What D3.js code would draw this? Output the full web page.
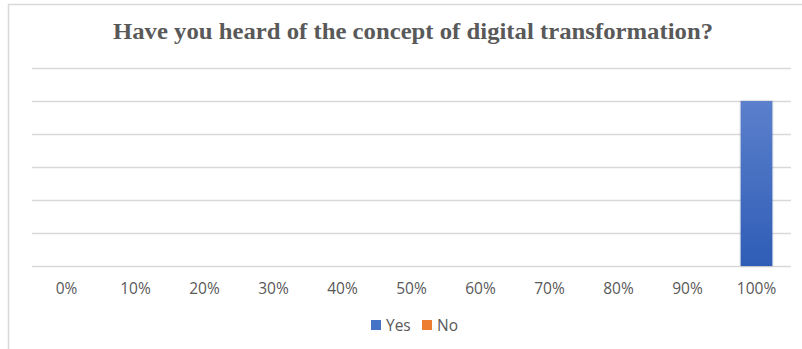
<!DOCTYPE html>
<html>
<head>
<meta charset="utf-8">
<script src="https://cdn.jsdelivr.net/npm/d3@7"></script>
<style>
  html, body { margin: 0; padding: 0; background: #fff; }
  svg { display: block; }
</style>
</head>
<body>
<svg id="chart" width="802" height="349"></svg>
<script>
// Survey answers by response share
const categories = ["0%", "10%", "20%", "30%", "40%", "50%", "60%", "70%", "80%", "90%", "100%"];
const yesValues = [0, 0, 0, 0, 0, 0, 0, 0, 0, 0, 100];
const noValues  = [0, 0, 0, 0, 0, 0, 0, 0, 0, 0, 0];
const seriesNames = ["Yes", "No"];
const yTicks = [0, 20, 40, 60, 80, 100, 120];

const svg = d3.select("#chart");
const W = 802, H = 349;
const margin = { left: 32, right: 11, top: 68, bottom: 83 };
const plotW = W - margin.left - margin.right;
const plotH = H - margin.top - margin.bottom;

// Chart frame
svg.append("rect")
  .attr("x", 8.5).attr("y", 4.5)
  .attr("width", W + 10).attr("height", H + 10)
  .attr("fill", "#fff").attr("stroke", "#d9d9d9").attr("stroke-width", 1.5);

// Title
svg.append("text")
  .attr("x", 113).attr("y", 39)
  .attr("font-family", "'Liberation Serif', 'Times New Roman', serif")
  .attr("font-weight", "bold")
  .attr("font-size", 23)
  .attr("textLength", 600)
  .attr("lengthAdjust", "spacingAndGlyphs")
  .attr("fill", "#595959")
  .text("Have you heard of the concept of digital transformation?");

const g = svg.append("g").attr("transform", `translate(${margin.left},${margin.top})`);

const x = d3.scaleBand().domain(categories).range([0, plotW]).paddingInner(0.54).paddingOuter(0.27);
const y = d3.scaleLinear().domain([0, 120]).range([plotH, 0]);

// Horizontal gridlines
g.append("g")
  .call(d3.axisLeft(y).tickValues(yTicks).tickSize(-plotW).tickFormat(""))
  .call(s => s.select(".domain").remove())
  .call(s => s.selectAll(".tick line").attr("stroke", "#d9d9d9").attr("stroke-width", 1.3));

// Category labels
g.append("g")
  .attr("transform", `translate(0,${plotH})`)
  .call(d3.axisBottom(x).tickSize(0).tickPadding(17))
  .call(s => s.select(".domain").remove())
  .call(s => s.selectAll("text")
    .attr("font-family", "'Open Sans', 'Liberation Sans', sans-serif")
    .attr("font-size", 15.5)
    .attr("fill", "#595959"));

// Bar fill gradient
const defs = svg.append("defs");
const grad = defs.append("linearGradient").attr("id", "yesGrad")
  .attr("x1", 0).attr("y1", 0).attr("x2", 0).attr("y2", 1);
grad.append("stop").attr("offset", "0%").attr("stop-color", "#5b80cc");
grad.append("stop").attr("offset", "100%").attr("stop-color", "#2f5db6");
const shadow = defs.append("filter").attr("id", "barShadow")
  .attr("x", "-30%").attr("y", "-10%").attr("width", "160%").attr("height", "120%");
shadow.append("feDropShadow").attr("dx", 0).attr("dy", 0).attr("stdDeviation", 1.2)
  .attr("flood-color", "#000").attr("flood-opacity", 0.25);

const rows = categories.map((c, i) => ({ c, yes: yesValues[i], no: noValues[i] }));

// "No" bars (overlapping the "Yes" bars in each category)
g.selectAll(".bar-no").data(rows).join("rect")
  .attr("class", "bar-no")
  .attr("x", d => x(d.c)).attr("width", x.bandwidth())
  .attr("y", d => y(d.no)).attr("height", d => plotH - y(d.no))
  .attr("fill", "#ed7d31");

// "Yes" bars
g.selectAll(".bar-yes").data(rows.filter(d => d.yes > 0)).join("rect")
  .attr("class", "bar-yes")
  .attr("x", d => x(d.c)).attr("width", x.bandwidth())
  .attr("y", d => y(d.yes)).attr("height", d => plotH - y(d.yes))
  .attr("fill", "url(#yesGrad)")
  .attr("filter", "url(#barShadow)");

// Legend
const legendColors = ["#4472c4", "#ed7d31"];
const legend = svg.append("g").attr("transform", "translate(371,320)");
const legendX = [0, 51];
seriesNames.forEach((name, i) => {
  const item = legend.append("g").attr("transform", `translate(${legendX[i]},0)`);
  item.append("rect").attr("width", 10).attr("height", 10).attr("fill", legendColors[i]);
  item.append("text").attr("x", 15).attr("y", 11)
    .attr("font-family", "'Open Sans', 'Liberation Sans', sans-serif")
    .attr("font-size", 15.5).attr("fill", "#595959").text(name);
});
</script>
</body>
</html>
